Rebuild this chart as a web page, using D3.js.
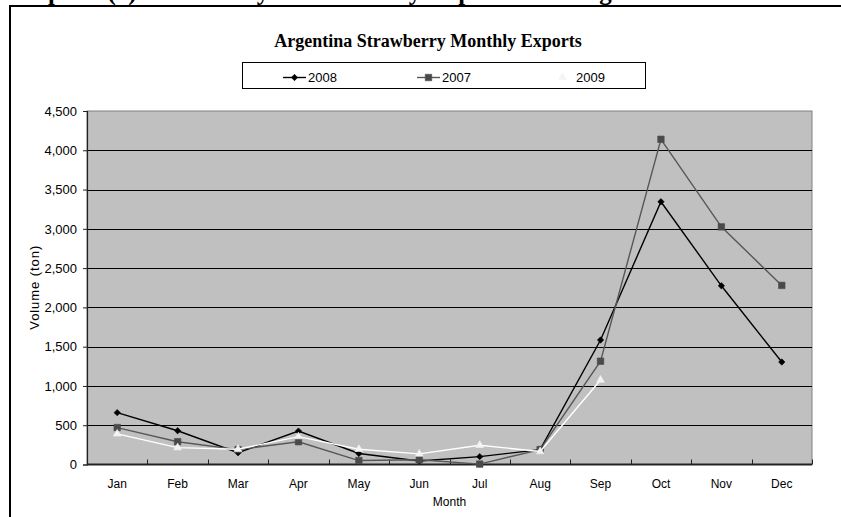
<!DOCTYPE html>
<html>
<head>
<meta charset="utf-8">
<script src="https://cdn.jsdelivr.net/npm/d3@7"></script>
<style>
  html, body { margin: 0; padding: 0; background: #ffffff; }
  svg { display: block; }
</style>
</head>
<body>
<svg id="chart" width="841" height="517"></svg>
<script>
// Monthly strawberry export volumes (tons)
const months = ["Jan", "Feb", "Mar", "Apr", "May", "Jun", "Jul", "Aug", "Sep", "Oct", "Nov", "Dec"];
const exports2008 = [660, 430, 150, 425, 140, 45, 100, 190, 1585, 3345, 2275, 1305];
const exports2007 = [470, 290, 190, 290, 50, 60, 5, 190, 1315, 4140, 3025, 2280];
const exports2009 = [390, 215, 195, 355, 195, 135, 245, 165, 1075, null, null, null];
const yTicks = [0, 500, 1000, 1500, 2000, 2500, 3000, 3500, 4000, 4500];
const seriesNames = ["2008", "2007", "2009"];

// Heading words of the page this chart sits under (only their lower edge shows)
const headingWords = ["Graph", "(4):", "Monthly", "Strawberry", "Exports", "of", "Argentina"];
const headingX = [5, 107.5, 177.5, 297.7, 429, 527, 570];

const svg = d3.select("#chart");
const sans = "'Liberation Sans', Arial, Helvetica, sans-serif";
const serif = "'Liberation Serif', 'Times New Roman', serif";

const plot = { left: 87, right: 812, top: 111, bottom: 464.5 };

const x = d3.scaleBand().domain(months).range([plot.left, plot.right]);
const y = d3.scaleLinear().domain([0, 4500]).range([plot.bottom, plot.top]);

// Heading text clipped by the top of the frame
const heading = svg.append("text")
  .attr("y", 0)
  .attr("font-family", serif)
  .attr("font-weight", "bold")
  .attr("font-size", 25)
  .attr("fill", "#000");
heading.selectAll("tspan").data(headingWords).join("tspan")
  .attr("x", (d, i) => headingX[i])
  .text(d => d);

// Outer frame (top and left edges)
svg.append("line").attr("x1", 9).attr("x2", 841).attr("y1", 6).attr("y2", 6)
  .attr("stroke", "#000").attr("stroke-width", 2);
svg.append("line").attr("x1", 10).attr("x2", 10).attr("y1", 5).attr("y2", 517)
  .attr("stroke", "#000").attr("stroke-width", 2);

// Chart title
svg.append("text")
  .attr("x", 428).attr("y", 47)
  .attr("text-anchor", "middle")
  .attr("font-family", serif)
  .attr("font-weight", "bold")
  .attr("font-size", 18)
  .text("Argentina Strawberry Monthly Exports");

// Plot background
svg.append("rect")
  .attr("x", plot.left).attr("y", plot.top)
  .attr("width", plot.right - plot.left).attr("height", plot.bottom - plot.top)
  .attr("fill", "#c0c0c0")
  .attr("stroke", "#808080").attr("stroke-width", 1);

// Horizontal gridlines
svg.append("g").selectAll("line").data(yTicks.filter(d => d > 0 && d < 4500)).join("line")
  .attr("x1", plot.left).attr("x2", plot.right)
  .attr("y1", d => Math.round(y(d)) + 0.5).attr("y2", d => Math.round(y(d)) + 0.5)
  .attr("stroke", "#000").attr("stroke-width", 1);

// Y axis
const yAxis = svg.append("g")
  .attr("transform", `translate(${plot.left},0)`)
  .call(d3.axisLeft(y).tickValues(yTicks).tickFormat(d3.format(",")).tickSize(4).tickPadding(6));
yAxis.select(".domain").attr("stroke", "#222").attr("stroke-width", 1.2);
yAxis.selectAll(".tick line").attr("stroke", "#222");
yAxis.selectAll(".tick text")
  .attr("font-family", sans).attr("font-size", 13).attr("fill", "#000");

// X axis labels
const xAxis = svg.append("g")
  .attr("transform", `translate(0,${plot.bottom})`)
  .call(d3.axisBottom(x).tickSize(0).tickPadding(15));
xAxis.select(".domain").remove();
xAxis.selectAll(".tick text")
  .attr("font-family", sans).attr("font-size", 12).attr("fill", "#000");

// Category boundary ticks pointing into the plot
const boundaries = months.map(m => x(m)).concat([x.range()[1]]);
svg.append("g").selectAll("line").data(boundaries).join("line")
  .attr("x1", d => Math.round(d) + 0.5).attr("x2", d => Math.round(d) + 0.5)
  .attr("y1", plot.bottom).attr("y2", plot.bottom - 5)
  .attr("stroke", "#222").attr("stroke-width", 1);

// Bottom axis line
svg.append("line")
  .attr("x1", plot.left).attr("x2", plot.right)
  .attr("y1", plot.bottom).attr("y2", plot.bottom)
  .attr("stroke", "#222").attr("stroke-width", 2);

// Axis titles
svg.append("text")
  .attr("x", (plot.left + plot.right) / 2).attr("y", 506)
  .attr("text-anchor", "middle")
  .attr("font-family", sans).attr("font-size", 12)
  .text("Month");
svg.append("text")
  .attr("transform", `translate(39,${(plot.top + plot.bottom) / 2}) rotate(-90)`)
  .attr("text-anchor", "middle")
  .attr("font-family", sans).attr("font-size", 13)
  .attr("textLength", 84).attr("lengthAdjust", "spacing")
  .text("Volume (ton)");

// Series styles
const styles = {
  "2008": { line: "#000000", fill: "#000000", stroke: "#000000", symbol: d3.symbolSquare, size: 20, rotate: 45 },
  "2007": { line: "#575757", fill: "#4a4a4a", stroke: "#4a4a4a", symbol: d3.symbolSquare, size: 42, rotate: 0 },
  "2009": { line: "#ffffff", fill: "#f4f4f4", stroke: "#f4f4f4", symbol: d3.symbolTriangle, size: 26, rotate: 0 }
};
const seriesValues = { "2008": exports2008, "2007": exports2007, "2009": exports2009 };

const line = d3.line()
  .defined(d => d.v !== null)
  .x(d => x(d.m) + x.bandwidth() / 2)
  .y(d => y(d.v));

seriesNames.forEach(name => {
  const st = styles[name];
  const pts = months.map((m, i) => ({ m, v: seriesValues[name][i] }));
  const g = svg.append("g");
  g.append("path")
    .datum(pts)
    .attr("d", line)
    .attr("fill", "none")
    .attr("stroke", st.line)
    .attr("stroke-width", 1.4);
  g.selectAll("path.marker").data(pts.filter(d => d.v !== null)).join("path")
    .attr("class", "marker")
    .attr("d", d3.symbol().type(st.symbol).size(st.size))
    .attr("transform", d => `translate(${x(d.m) + x.bandwidth() / 2},${y(d.v)}) rotate(${st.rotate})`)
    .attr("fill", st.fill)
    .attr("stroke", st.stroke)
    .attr("stroke-width", 0.6);
});

// Legend
svg.append("rect")
  .attr("x", 242.5).attr("y", 62.5).attr("width", 403).attr("height", 26)
  .attr("fill", "#ffffff").attr("stroke", "#000").attr("stroke-width", 1);
const legendX = [283, 417, 551];
seriesNames.forEach((name, i) => {
  const st = styles[name];
  const lx = legendX[i];
  svg.append("line")
    .attr("x1", lx).attr("x2", lx + 23).attr("y1", 77.5).attr("y2", 77.5)
    .attr("stroke", st.line).attr("stroke-width", 1.4);
  svg.append("path")
    .attr("d", d3.symbol().type(st.symbol).size(st.size))
    .attr("transform", `translate(${lx + 11.5},77.5) rotate(${st.rotate})`)
    .attr("fill", st.fill).attr("stroke", st.stroke).attr("stroke-width", 0.6);
  svg.append("text")
    .attr("x", lx + 25).attr("y", 82)
    .attr("font-family", sans).attr("font-size", 13)
    .text(name);
});
</script>
</body>
</html>
